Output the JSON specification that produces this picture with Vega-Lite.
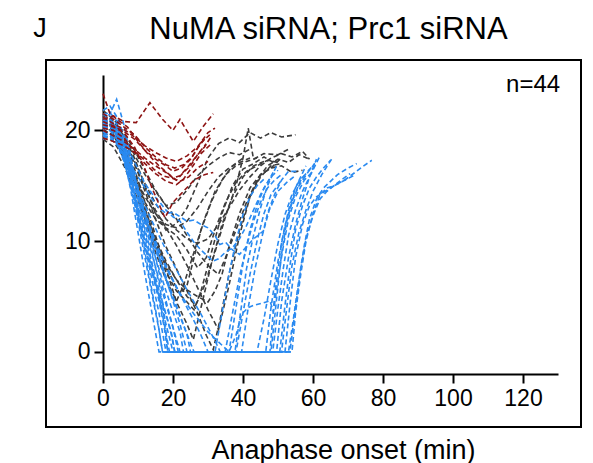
{
"$schema": "https://vega.github.io/schema/vega-lite/v6.json",
"width": 535, "height": 367,
"autosize": {"type": "none"},
"padding": {"left": 46, "top": 60, "right": 12, "bottom": 36},
"background": "white",
"title": {"text": "NuMA siRNA; Prc1 siRNA", "fontSize": 31, "font": "Liberation Sans", "fontWeight": "normal", "color": "black", "anchor": "middle", "frame": "group", "dx": 15, "offset": -31},
"datasets": {
"gray": [
{"s":1,"t":0,"v":21},{"s":1,"t":3,"v":20.5},{"s":1,"t":6,"v":19.5},{"s":1,"t":9,"v":17.5},{"s":1,"t":12,"v":15},{"s":1,"t":15,"v":12.5},{"s":1,"t":18,"v":11},{"s":1,"t":21,"v":11.6},{"s":1,"t":24,"v":13},{"s":1,"t":27,"v":15.2},{"s":1,"t":30,"v":17.5},{"s":1,"t":33,"v":18.8},{"s":1,"t":36,"v":19.3},{"s":1,"t":39,"v":18.9},{"s":1,"t":42,"v":19.8},{"s":1,"t":45,"v":19.3},{"s":1,"t":48,"v":19.8},{"s":1,"t":51,"v":19.4},{"s":1,"t":55,"v":19.6},
{"s":2,"t":0,"v":20.5},{"s":2,"t":3,"v":20},{"s":2,"t":6,"v":18.5},{"s":2,"t":9,"v":16},{"s":2,"t":12,"v":13},{"s":2,"t":15,"v":10},{"s":2,"t":18,"v":8},{"s":2,"t":21,"v":6.5},{"s":2,"t":24,"v":5},{"s":2,"t":26.5,"v":4.2},{"s":2,"t":29,"v":6},{"s":2,"t":32,"v":9},{"s":2,"t":35,"v":12.2},{"s":2,"t":38,"v":15},{"s":2,"t":40,"v":17.5},{"s":2,"t":41.5,"v":20.2},{"s":2,"t":43,"v":17.4},{"s":2,"t":46,"v":17.9},{"s":2,"t":50,"v":17.8},{"s":2,"t":53,"v":18.3},
{"s":3,"t":0,"v":19.5},{"s":3,"t":3,"v":19},{"s":3,"t":6,"v":17.5},{"s":3,"t":9,"v":15},{"s":3,"t":12,"v":12},{"s":3,"t":15,"v":9},{"s":3,"t":18,"v":6.5},{"s":3,"t":21,"v":4.6},{"s":3,"t":23,"v":6},{"s":3,"t":26,"v":9},{"s":3,"t":29,"v":12},{"s":3,"t":32,"v":14.5},{"s":3,"t":35,"v":16},{"s":3,"t":38,"v":16.8},{"s":3,"t":41,"v":17.2},{"s":3,"t":44,"v":17.5},
{"s":4,"t":0,"v":20.8},{"s":4,"t":3,"v":20.2},{"s":4,"t":6,"v":18.8},{"s":4,"t":9,"v":16.5},{"s":4,"t":12,"v":13.5},{"s":4,"t":15,"v":10.5},{"s":4,"t":18,"v":7.5},{"s":4,"t":21,"v":4.5},{"s":4,"t":24,"v":2.5},{"s":4,"t":25.8,"v":1.1},{"s":4,"t":28,"v":4},{"s":4,"t":31,"v":8},{"s":4,"t":34,"v":11.5},{"s":4,"t":37,"v":14},{"s":4,"t":40,"v":15.8},{"s":4,"t":43,"v":16.8},{"s":4,"t":46,"v":17.2},
{"s":5,"t":0,"v":21},{"s":5,"t":3,"v":20.2},{"s":5,"t":6,"v":19},{"s":5,"t":9,"v":17},{"s":5,"t":12,"v":14.5},{"s":5,"t":15,"v":12},{"s":5,"t":18,"v":9.5},{"s":5,"t":21,"v":7.5},{"s":5,"t":24,"v":5.5},{"s":5,"t":27,"v":3.5},{"s":5,"t":29.5,"v":1.5},{"s":5,"t":31.5,"v":0.2},{"s":5,"t":33.5,"v":3},{"s":5,"t":36,"v":7},{"s":5,"t":39,"v":11},{"s":5,"t":42,"v":14},{"s":5,"t":45,"v":15.8},{"s":5,"t":48,"v":16.8},{"s":5,"t":51,"v":17},
{"s":6,"t":0,"v":20.3},{"s":6,"t":3,"v":19.8},{"s":6,"t":6,"v":18.2},{"s":6,"t":9,"v":15.8},{"s":6,"t":12,"v":13.5},{"s":6,"t":15,"v":12},{"s":6,"t":18,"v":11.2},{"s":6,"t":21,"v":10.5},{"s":6,"t":24,"v":9.2},{"s":6,"t":27,"v":7.6},{"s":6,"t":29.5,"v":8.5},{"s":6,"t":32,"v":11},{"s":6,"t":35,"v":13.5},{"s":6,"t":38,"v":15.3},{"s":6,"t":41,"v":16.3},{"s":6,"t":44,"v":16.8},{"s":6,"t":47,"v":17.3},{"s":6,"t":50,"v":17.1},
{"s":7,"t":0,"v":21.5},{"s":7,"t":3,"v":20.8},{"s":7,"t":6,"v":19.5},{"s":7,"t":9,"v":17.8},{"s":7,"t":12,"v":16},{"s":7,"t":15,"v":14.5},{"s":7,"t":18,"v":13.2},{"s":7,"t":21,"v":12},{"s":7,"t":24,"v":10.5},{"s":7,"t":27,"v":9},{"s":7,"t":30,"v":7.8},{"s":7,"t":33,"v":7},{"s":7,"t":35,"v":8.5},{"s":7,"t":38,"v":11},{"s":7,"t":41,"v":13.5},{"s":7,"t":44,"v":15.5},{"s":7,"t":47,"v":16.8},{"s":7,"t":50,"v":17.4},{"s":7,"t":53,"v":17.1},{"s":7,"t":56,"v":17.8},{"s":7,"t":59,"v":17.4},
{"s":8,"t":0,"v":20},{"s":8,"t":3,"v":19.6},{"s":8,"t":6,"v":18.7},{"s":8,"t":9,"v":17},{"s":8,"t":12,"v":14.8},{"s":8,"t":15,"v":12.8},{"s":8,"t":18,"v":11.2},{"s":8,"t":21,"v":9.6},{"s":8,"t":24,"v":7.8},{"s":8,"t":27,"v":5.8},{"s":8,"t":30,"v":3.8},{"s":8,"t":33,"v":2},{"s":8,"t":36,"v":6},{"s":8,"t":39,"v":10.5},{"s":8,"t":42,"v":14},{"s":8,"t":45,"v":16},{"s":8,"t":48,"v":16.6},{"s":8,"t":51,"v":16.8},{"s":8,"t":54,"v":16.2},{"s":8,"t":57,"v":16.4},
{"s":9,"t":0,"v":19.8},{"s":9,"t":3,"v":19.3},{"s":9,"t":6,"v":18},{"s":9,"t":9,"v":16},{"s":9,"t":12,"v":14},{"s":9,"t":15,"v":12.5},{"s":9,"t":18,"v":11.5},{"s":9,"t":21,"v":11.2},{"s":9,"t":24,"v":11.8},{"s":9,"t":27,"v":13},{"s":9,"t":30,"v":14.5},{"s":9,"t":33,"v":15.8},{"s":9,"t":36,"v":16.6},{"s":9,"t":39,"v":17.1},{"s":9,"t":42,"v":17.5},
{"s":10,"t":0,"v":21.3},{"s":10,"t":3,"v":20.6},{"s":10,"t":6,"v":19.2},{"s":10,"t":9,"v":17.2},{"s":10,"t":12,"v":15.2},{"s":10,"t":15,"v":13.4},{"s":10,"t":18,"v":12},{"s":10,"t":21,"v":11},{"s":10,"t":24,"v":10.2},{"s":10,"t":27,"v":9.8},{"s":10,"t":30,"v":10.2},{"s":10,"t":33,"v":11.5},{"s":10,"t":36,"v":13},{"s":10,"t":39,"v":14.6},{"s":10,"t":42,"v":15.8},{"s":10,"t":45,"v":16.8},{"s":10,"t":48,"v":17.5},{"s":10,"t":51,"v":17.9},{"s":10,"t":54,"v":17.6},{"s":10,"t":57,"v":18.1},{"s":10,"t":59,"v":17.4},
{"s":11,"t":0,"v":20.6},{"s":11,"t":3,"v":19.7},{"s":11,"t":6,"v":17.8},{"s":11,"t":9,"v":15.2},{"s":11,"t":12,"v":12.3},{"s":11,"t":15,"v":9.8},{"s":11,"t":18,"v":7.8},{"s":11,"t":20,"v":6.4},{"s":11,"t":22,"v":5.2},{"s":11,"t":24,"v":6},{"s":11,"t":26,"v":8.5},{"s":11,"t":28,"v":11},{"s":11,"t":31,"v":13.6},{"s":11,"t":34,"v":15.5},{"s":11,"t":37,"v":16.8},{"s":11,"t":40,"v":17.5},
{"s":12,"t":0,"v":19.2},{"s":12,"t":3,"v":18.5},{"s":12,"t":6,"v":16.8},{"s":12,"t":9,"v":14.5},{"s":12,"t":12,"v":12},{"s":12,"t":15,"v":9.5},{"s":12,"t":18,"v":7.2},{"s":12,"t":21,"v":5.5},{"s":12,"t":24,"v":4.5},{"s":12,"t":26,"v":3.8},{"s":12,"t":28,"v":5.5},{"s":12,"t":31,"v":9},{"s":12,"t":34,"v":12.5},{"s":12,"t":37,"v":15},{"s":12,"t":40,"v":16.5},{"s":12,"t":43,"v":17},{"s":12,"t":46,"v":17.6},{"s":12,"t":48.7,"v":17.1},
{"s":13,"t":0,"v":20.1},{"s":13,"t":3,"v":19.5},{"s":13,"t":6,"v":18},{"s":13,"t":9,"v":15.5},{"s":13,"t":12,"v":12.8},{"s":13,"t":15,"v":10.2},{"s":13,"t":18,"v":8.2},{"s":13,"t":21,"v":6.5},{"s":13,"t":24,"v":5.6},{"s":13,"t":27,"v":5},{"s":13,"t":30,"v":4.5},{"s":13,"t":32,"v":5.5},{"s":13,"t":34,"v":7},{"s":13,"t":36,"v":9.5},{"s":13,"t":39,"v":12.5},{"s":13,"t":42,"v":14.8},{"s":13,"t":45,"v":16},{"s":13,"t":48,"v":16.6},{"s":13,"t":50.6,"v":17.4},
{"s":14,"t":0,"v":21.8},{"s":14,"t":3,"v":21},{"s":14,"t":6,"v":19.8},{"s":14,"t":9,"v":18.2},{"s":14,"t":12,"v":16.4},{"s":14,"t":15,"v":14.6},{"s":14,"t":18,"v":13.2},{"s":14,"t":21,"v":13.5},{"s":14,"t":24,"v":14.6},{"s":14,"t":27,"v":15.9},{"s":14,"t":30,"v":16.8},{"s":14,"t":33,"v":17.5},{"s":14,"t":36,"v":18},{"s":14,"t":39,"v":17.8},{"s":14,"t":42,"v":18.3}
],
"blue": [
{"s":1,"t":0,"v":20.2},{"s":1,"t":2,"v":20.6},{"s":1,"t":4,"v":19.8},{"s":1,"t":6,"v":17.6},{"s":1,"t":8,"v":14.5},{"s":1,"t":10,"v":10.8},{"s":1,"t":12,"v":7},{"s":1,"t":14,"v":3.5},{"s":1,"t":16,"v":0},{"s":1,"t":47.7,"v":0},{"s":1,"t":49,"v":5},{"s":1,"t":51,"v":9.8},{"s":1,"t":53,"v":12.8},{"s":1,"t":55,"v":14.8},{"s":1,"t":58,"v":16.8},
{"s":2,"t":0,"v":21},{"s":2,"t":2,"v":21.3},{"s":2,"t":4,"v":20.5},{"s":2,"t":6,"v":18.8},{"s":2,"t":8,"v":16},{"s":2,"t":10,"v":12.4},{"s":2,"t":12,"v":9},{"s":2,"t":14,"v":5.5},{"s":2,"t":15.5,"v":3},{"s":2,"t":17,"v":0},{"s":2,"t":49.6,"v":0},{"s":2,"t":51,"v":4.5},{"s":2,"t":53,"v":8.5},{"s":2,"t":55,"v":11.5},{"s":2,"t":57,"v":13.8},{"s":2,"t":59,"v":15.8},{"s":2,"t":62,"v":17.7},
{"s":3,"t":0,"v":19.5},{"s":3,"t":2,"v":20},{"s":3,"t":4,"v":19.6},{"s":3,"t":6,"v":18.2},{"s":3,"t":8,"v":15.8},{"s":3,"t":10,"v":12.8},{"s":3,"t":12,"v":9.6},{"s":3,"t":14,"v":6.5},{"s":3,"t":16,"v":3.5},{"s":3,"t":18,"v":0},{"s":3,"t":51,"v":0},{"s":3,"t":52.5,"v":4},{"s":3,"t":54,"v":7.8},{"s":3,"t":56,"v":10.8},{"s":3,"t":58,"v":12.8},{"s":3,"t":60,"v":14.5},{"s":3,"t":62.5,"v":16},{"s":3,"t":65.3,"v":17.4},
{"s":4,"t":0,"v":20.8},{"s":4,"t":2,"v":21.5},{"s":4,"t":3.9,"v":22.8},{"s":4,"t":6,"v":20.5},{"s":4,"t":8,"v":17.5},{"s":4,"t":10,"v":14},{"s":4,"t":12,"v":10.8},{"s":4,"t":14,"v":8},{"s":4,"t":16,"v":5},{"s":4,"t":17.5,"v":2.5},{"s":4,"t":19,"v":0},{"s":4,"t":53.4,"v":0},{"s":4,"t":55,"v":4},{"s":4,"t":56.5,"v":7.5},{"s":4,"t":58,"v":10.2},{"s":4,"t":60,"v":12.3},{"s":4,"t":62,"v":13.8},{"s":4,"t":64,"v":14.5},{"s":4,"t":66,"v":15},{"s":4,"t":69,"v":15.5},{"s":4,"t":72,"v":16.2},{"s":4,"t":74.5,"v":16.8},{"s":4,"t":76.8,"v":17.3},
{"s":5,"t":0,"v":20.4},{"s":5,"t":2,"v":20.2},{"s":5,"t":4,"v":19.2},{"s":5,"t":6,"v":17.5},{"s":5,"t":8,"v":15.2},{"s":5,"t":10,"v":12.5},{"s":5,"t":12,"v":10},{"s":5,"t":14,"v":7.5},{"s":5,"t":16,"v":5},{"s":5,"t":18,"v":2.5},{"s":5,"t":20,"v":0},{"s":5,"t":52,"v":0},{"s":5,"t":53.5,"v":4.5},{"s":5,"t":55,"v":8.5},{"s":5,"t":57,"v":11.5},{"s":5,"t":59,"v":13.2},{"s":5,"t":61,"v":14},{"s":5,"t":63.5,"v":14.5},{"s":5,"t":66,"v":15},{"s":5,"t":68,"v":15.5},{"s":5,"t":70.6,"v":16.1},
{"s":6,"t":0,"v":21.5},{"s":6,"t":2,"v":21},{"s":6,"t":4,"v":20},{"s":6,"t":6,"v":18.8},{"s":6,"t":8,"v":17},{"s":6,"t":10,"v":14.8},{"s":6,"t":12,"v":12.3},{"s":6,"t":14,"v":9.8},{"s":6,"t":16,"v":7.2},{"s":6,"t":18,"v":4.6},{"s":6,"t":20,"v":2.2},{"s":6,"t":21.5,"v":0},{"s":6,"t":54,"v":0},{"s":6,"t":55,"v":3.5},{"s":6,"t":56.5,"v":7},{"s":6,"t":58,"v":10},{"s":6,"t":60,"v":12.5},{"s":6,"t":62,"v":14.2},{"s":6,"t":64,"v":14.8},{"s":6,"t":66,"v":15},{"s":6,"t":68.5,"v":15.4},{"s":6,"t":71.5,"v":15.9},
{"s":7,"t":0,"v":19.8},{"s":7,"t":2,"v":19.5},{"s":7,"t":4,"v":18.8},{"s":7,"t":6,"v":17.5},{"s":7,"t":8,"v":15.5},{"s":7,"t":10,"v":13.2},{"s":7,"t":12,"v":11},{"s":7,"t":14,"v":8.8},{"s":7,"t":16,"v":6.5},{"s":7,"t":18,"v":4.3},{"s":7,"t":20,"v":2.2},{"s":7,"t":22,"v":0},{"s":7,"t":34.9,"v":0},{"s":7,"t":37,"v":3.5},{"s":7,"t":39,"v":6.8},{"s":7,"t":41,"v":9.5},{"s":7,"t":43,"v":11.8},{"s":7,"t":45,"v":13.5},{"s":7,"t":47,"v":14.8},{"s":7,"t":49,"v":15.5},{"s":7,"t":51,"v":16},
{"s":8,"t":0,"v":20.6},{"s":8,"t":2,"v":20.8},{"s":8,"t":4,"v":20.2},{"s":8,"t":6,"v":18.5},{"s":8,"t":8,"v":16.2},{"s":8,"t":10,"v":13.8},{"s":8,"t":12,"v":11.5},{"s":8,"t":14,"v":9.5},{"s":8,"t":16,"v":7.5},{"s":8,"t":18,"v":5.5},{"s":8,"t":20,"v":3.6},{"s":8,"t":22,"v":1.8},{"s":8,"t":23,"v":0},{"s":8,"t":37.7,"v":0},{"s":8,"t":39.5,"v":4},{"s":8,"t":41,"v":7.5},{"s":8,"t":43,"v":10.5},{"s":8,"t":45,"v":13},{"s":8,"t":47,"v":15},{"s":8,"t":49.6,"v":16.8},
{"s":9,"t":0,"v":21.2},{"s":9,"t":2,"v":20.8},{"s":9,"t":4,"v":19.8},{"s":9,"t":6,"v":18.4},{"s":9,"t":8,"v":16.6},{"s":9,"t":10,"v":14.6},{"s":9,"t":12,"v":12.6},{"s":9,"t":14,"v":10.6},{"s":9,"t":16,"v":8.6},{"s":9,"t":18,"v":6.6},{"s":9,"t":20,"v":4.6},{"s":9,"t":22,"v":2.5},{"s":9,"t":24,"v":0},{"s":9,"t":39.6,"v":0},{"s":9,"t":41.5,"v":4},{"s":9,"t":43.5,"v":7.6},{"s":9,"t":45.5,"v":10.5},{"s":9,"t":47.5,"v":12.8},{"s":9,"t":50,"v":14.5},{"s":9,"t":52.5,"v":15.3},{"s":9,"t":54.9,"v":15.9},
{"s":10,"t":0,"v":19.2},{"s":10,"t":2,"v":19.6},{"s":10,"t":4,"v":19.3},{"s":10,"t":6,"v":18},{"s":10,"t":8,"v":16.3},{"s":10,"t":10,"v":14.3},{"s":10,"t":12,"v":12.3},{"s":10,"t":14,"v":10.4},{"s":10,"t":16,"v":8.6},{"s":10,"t":18,"v":6.8},{"s":10,"t":20,"v":5},{"s":10,"t":22,"v":3.3},{"s":10,"t":24,"v":1.6},{"s":10,"t":25,"v":0},{"s":10,"t":48.5,"v":0},{"s":10,"t":50,"v":4},{"s":10,"t":51.5,"v":7.5},{"s":10,"t":53,"v":10.5},{"s":10,"t":55,"v":12.8},{"s":10,"t":57,"v":14.5},{"s":10,"t":59,"v":15.8},{"s":10,"t":61,"v":17.4},
{"s":11,"t":0,"v":20.9},{"s":11,"t":2,"v":20.5},{"s":11,"t":4,"v":19.5},{"s":11,"t":6,"v":18},{"s":11,"t":8,"v":16.2},{"s":11,"t":10,"v":14.2},{"s":11,"t":12,"v":12.2},{"s":11,"t":14,"v":10.2},{"s":11,"t":16,"v":8.3},{"s":11,"t":18,"v":6.5},{"s":11,"t":20,"v":4.8},{"s":11,"t":22,"v":3.2},{"s":11,"t":24,"v":1.6},{"s":11,"t":26,"v":0},{"s":11,"t":50.5,"v":0},{"s":11,"t":52,"v":4.2},{"s":11,"t":53.5,"v":8},{"s":11,"t":55,"v":11},{"s":11,"t":57,"v":13.2},{"s":11,"t":59,"v":14.8},{"s":11,"t":61,"v":15.8},{"s":11,"t":63,"v":16.6},{"s":11,"t":65,"v":17.3},
{"s":12,"t":0,"v":20.1},{"s":12,"t":2,"v":20.4},{"s":12,"t":4,"v":19.6},{"s":12,"t":6,"v":18.2},{"s":12,"t":8,"v":16.5},{"s":12,"t":10,"v":14.8},{"s":12,"t":12,"v":13.2},{"s":12,"t":14,"v":11.8},{"s":12,"t":16,"v":10.5},{"s":12,"t":18,"v":9.2},{"s":12,"t":20,"v":8},{"s":12,"t":22,"v":6.8},{"s":12,"t":24,"v":5.6},{"s":12,"t":26,"v":4.5},{"s":12,"t":28,"v":3.4},{"s":12,"t":30,"v":2.2},{"s":12,"t":32,"v":1},{"s":12,"t":33.5,"v":0},{"s":12,"t":38,"v":0},{"s":12,"t":40,"v":3.5},{"s":12,"t":42,"v":7},{"s":12,"t":44,"v":10},{"s":12,"t":46,"v":12.5},{"s":12,"t":48,"v":14.2},{"s":12,"t":51,"v":15.5},
{"s":13,"t":0,"v":21.8},{"s":13,"t":2,"v":22.2},{"s":13,"t":4,"v":21.2},{"s":13,"t":6,"v":19.5},{"s":13,"t":8,"v":17.2},{"s":13,"t":10,"v":14.5},{"s":13,"t":12,"v":11.8},{"s":13,"t":14,"v":9},{"s":13,"t":16,"v":6.2},{"s":13,"t":17.5,"v":3.5},{"s":13,"t":18.5,"v":0},{"s":13,"t":48,"v":0},{"s":13,"t":49.5,"v":4.5},{"s":13,"t":51,"v":8.8},{"s":13,"t":52.5,"v":11.8},{"s":13,"t":54.5,"v":14},{"s":13,"t":56.5,"v":15.5},{"s":13,"t":58.5,"v":16.3},{"s":13,"t":60.5,"v":17},
{"s":14,"t":0,"v":20.3},{"s":14,"t":2,"v":20},{"s":14,"t":4,"v":19.2},{"s":14,"t":6,"v":17.8},{"s":14,"t":8,"v":16},{"s":14,"t":10,"v":14},{"s":14,"t":12,"v":12.2},{"s":14,"t":14,"v":10.5},{"s":14,"t":16,"v":9},{"s":14,"t":18,"v":7.6},{"s":14,"t":20,"v":6.4},{"s":14,"t":22,"v":5.3},{"s":14,"t":24,"v":4.3},{"s":14,"t":26,"v":3.4},{"s":14,"t":28,"v":2.6},{"s":14,"t":30,"v":1.8},{"s":14,"t":32,"v":1.2},{"s":14,"t":34,"v":0.6},{"s":14,"t":36,"v":0},{"s":14,"t":38,"v":1.5},{"s":14,"t":39.6,"v":3.4},{"s":14,"t":41.5,"v":4},{"s":14,"t":43,"v":4.2},{"s":14,"t":45.5,"v":4.4},{"s":14,"t":47.7,"v":4.6},{"s":14,"t":48.7,"v":3.6},{"s":14,"t":50,"v":6.5},{"s":14,"t":51.5,"v":9.5},{"s":14,"t":53,"v":12},{"s":14,"t":55,"v":14},{"s":14,"t":57.5,"v":15.5},{"s":14,"t":60,"v":16.3},
{"s":15,"t":0,"v":21},{"s":15,"t":2,"v":20.8},{"s":15,"t":4,"v":20.2},{"s":15,"t":6,"v":19.2},{"s":15,"t":8,"v":17.8},{"s":15,"t":10,"v":16.5},{"s":15,"t":12,"v":15.2},{"s":15,"t":14,"v":14.3},{"s":15,"t":16,"v":13.6},{"s":15,"t":18,"v":12.8},{"s":15,"t":20,"v":12.2},{"s":15,"t":22,"v":11.8},{"s":15,"t":24,"v":10.8},{"s":15,"t":26,"v":9.9},{"s":15,"t":28,"v":9.2},{"s":15,"t":30,"v":8.6},{"s":15,"t":31.5,"v":8.2},{"s":15,"t":33,"v":8.4},{"s":15,"t":35,"v":9},{"s":15,"t":37,"v":9.4},{"s":15,"t":39,"v":10.2},{"s":15,"t":41,"v":11.4},{"s":15,"t":43,"v":12.8},{"s":15,"t":45,"v":14.2},{"s":15,"t":47,"v":15.3},{"s":15,"t":48.6,"v":16.2},
{"s":16,"t":0,"v":19.6},{"s":16,"t":2,"v":19.3},{"s":16,"t":4,"v":18.7},{"s":16,"t":6,"v":17.8},{"s":16,"t":8,"v":16.8},{"s":16,"t":10,"v":15.8},{"s":16,"t":12,"v":14.8},{"s":16,"t":14,"v":13.8},{"s":16,"t":16,"v":13},{"s":16,"t":18,"v":12.5},{"s":16,"t":20,"v":12.6},{"s":16,"t":22,"v":12.2},{"s":16,"t":24,"v":11.8},{"s":16,"t":26,"v":11.9},{"s":16,"t":28,"v":11.5},{"s":16,"t":30,"v":11.2},{"s":16,"t":32,"v":10.5},{"s":16,"t":33.4,"v":9.7},{"s":16,"t":35,"v":9.9},{"s":16,"t":37,"v":9.2},{"s":16,"t":39,"v":8.8},{"s":16,"t":41,"v":9.5},{"s":16,"t":43,"v":10.2},{"s":16,"t":45.8,"v":10.9},{"s":16,"t":47,"v":12.5},{"s":16,"t":49,"v":14.2},{"s":16,"t":51,"v":15.5},{"s":16,"t":53,"v":16.3},{"s":16,"t":55.3,"v":16.3},
{"s":17,"t":0,"v":20.7},{"s":17,"t":2,"v":21},{"s":17,"t":4,"v":20.3},{"s":17,"t":6,"v":18.2},{"s":17,"t":8,"v":15.2},{"s":17,"t":10,"v":11.8},{"s":17,"t":12,"v":8.5},{"s":17,"t":14,"v":5.2},{"s":17,"t":16,"v":2},{"s":17,"t":17,"v":0},{"s":17,"t":46.5,"v":0},{"s":17,"t":48,"v":4},{"s":17,"t":50,"v":8.2},{"s":17,"t":52,"v":11.4},{"s":17,"t":54,"v":13.6},{"s":17,"t":56,"v":15},{"s":17,"t":58.5,"v":16.2},{"s":17,"t":60.5,"v":17},
{"s":18,"t":0,"v":19.9},{"s":18,"t":2,"v":19.7},{"s":18,"t":4,"v":18.9},{"s":18,"t":6,"v":17.2},{"s":18,"t":8,"v":14.8},{"s":18,"t":10,"v":12},{"s":18,"t":12,"v":9.5},{"s":18,"t":14,"v":7.2},{"s":18,"t":16,"v":5.2},{"s":18,"t":18,"v":3.4},{"s":18,"t":19.5,"v":1.8},{"s":18,"t":20.5,"v":0},{"s":18,"t":36,"v":0},{"s":18,"t":38,"v":4},{"s":18,"t":40,"v":8},{"s":18,"t":42,"v":11},{"s":18,"t":44,"v":13.2},{"s":18,"t":46,"v":14.8},{"s":18,"t":48,"v":15.8},{"s":18,"t":50,"v":16.4},
{"s":19,"t":0,"v":21.4},{"s":19,"t":2,"v":21.6},{"s":19,"t":4,"v":20.8},{"s":19,"t":6,"v":19},{"s":19,"t":8,"v":16.8},{"s":19,"t":10,"v":14.6},{"s":19,"t":12,"v":12.6},{"s":19,"t":14,"v":10.8},{"s":19,"t":16,"v":9.2},{"s":19,"t":18,"v":7.8},{"s":19,"t":20,"v":6.5},{"s":19,"t":22,"v":5.2},{"s":19,"t":24,"v":4},{"s":19,"t":26,"v":2.8},{"s":19,"t":28,"v":1.5},{"s":19,"t":30,"v":0},{"s":19,"t":44,"v":0},{"s":19,"t":46,"v":3},{"s":19,"t":48,"v":6.5},{"s":19,"t":50,"v":9.8},{"s":19,"t":52,"v":12.4},{"s":19,"t":54,"v":14.2},{"s":19,"t":56,"v":15.4},{"s":19,"t":58,"v":16.1},
{"s":20,"t":0,"v":20.5},{"s":20,"t":2,"v":20.6},{"s":20,"t":4,"v":19.6},{"s":20,"t":6,"v":17.9},{"s":20,"t":8,"v":15.6},{"s":20,"t":10,"v":13},{"s":20,"t":12,"v":10.4},{"s":20,"t":14,"v":7.9},{"s":20,"t":16,"v":5.6},{"s":20,"t":18,"v":3.4},{"s":20,"t":19.5,"v":1.6},{"s":20,"t":20.5,"v":0},{"s":20,"t":53,"v":0},{"s":20,"t":54.5,"v":3.2},{"s":20,"t":56,"v":6.6},{"s":20,"t":57.5,"v":9.6},{"s":20,"t":59,"v":12},{"s":20,"t":61,"v":13.8},{"s":20,"t":63,"v":14.8},{"s":20,"t":65,"v":15.4},{"s":20,"t":67,"v":16},{"s":20,"t":70,"v":16.6},{"s":20,"t":72.5,"v":17},
{"s":21,"t":0,"v":19.4},{"s":21,"t":2,"v":19.5},{"s":21,"t":4,"v":18.8},{"s":21,"t":6,"v":17.2},{"s":21,"t":8,"v":14.9},{"s":21,"t":10,"v":12.4},{"s":21,"t":12,"v":9.8},{"s":21,"t":14,"v":7.2},{"s":21,"t":16,"v":4.6},{"s":21,"t":17.5,"v":2.2},{"s":21,"t":18.5,"v":0},{"s":21,"t":32,"v":0},{"s":21,"t":34,"v":3.5},{"s":21,"t":36,"v":7},{"s":21,"t":38,"v":10},{"s":21,"t":40,"v":12.4},{"s":21,"t":42,"v":14},{"s":21,"t":44,"v":15},{"s":21,"t":46,"v":15.6}
],
"red": [
{"s":1,"t":0,"v":21},{"s":1,"t":3,"v":21.3},{"s":1,"t":6,"v":20.8},{"s":1,"t":9.5,"v":20.7},{"s":1,"t":13.4,"v":22.5},{"s":1,"t":17,"v":21},{"s":1,"t":20,"v":20},{"s":1,"t":22,"v":21},{"s":1,"t":25.8,"v":19},{"s":1,"t":28.5,"v":20.3},{"s":1,"t":31.5,"v":21.5},
{"s":2,"t":0,"v":20.5},{"s":2,"t":3,"v":20.3},{"s":2,"t":6,"v":19.8},{"s":2,"t":9,"v":18.5},{"s":2,"t":12,"v":16.5},{"s":2,"t":14,"v":14.8},{"s":2,"t":17.7,"v":12.1},{"s":2,"t":20,"v":13.5},{"s":2,"t":23,"v":14.5},{"s":2,"t":26,"v":15.5},{"s":2,"t":29,"v":16},{"s":2,"t":31.5,"v":16.2},
{"s":3,"t":0,"v":23.3},{"s":3,"t":2,"v":21.5},{"s":3,"t":4,"v":21},{"s":3,"t":7,"v":20.3},{"s":3,"t":10,"v":19},{"s":3,"t":13,"v":17.8},{"s":3,"t":16,"v":16.8},{"s":3,"t":19,"v":16},{"s":3,"t":21,"v":15.5},{"s":3,"t":23,"v":16.2},{"s":3,"t":25,"v":16.8},{"s":3,"t":27,"v":17.8},{"s":3,"t":29.5,"v":18.8},
{"s":4,"t":0,"v":20},{"s":4,"t":3,"v":19.5},{"s":4,"t":6,"v":19},{"s":4,"t":9,"v":18.3},{"s":4,"t":12,"v":17.5},{"s":4,"t":15,"v":16.8},{"s":4,"t":18,"v":16.2},{"s":4,"t":20,"v":15.7},{"s":4,"t":22,"v":15.9},{"s":4,"t":24,"v":16.6},{"s":4,"t":26.5,"v":17.6},{"s":4,"t":29,"v":18.5},{"s":4,"t":31,"v":19.5},
{"s":5,"t":0,"v":21.5},{"s":5,"t":3,"v":21},{"s":5,"t":6,"v":20.3},{"s":5,"t":9,"v":19.6},{"s":5,"t":12,"v":18.5},{"s":5,"t":15,"v":17.6},{"s":5,"t":18,"v":16.9},{"s":5,"t":20.5,"v":16.6},{"s":5,"t":23,"v":16.9},{"s":5,"t":25.5,"v":17.6},{"s":5,"t":28,"v":18.9},{"s":5,"t":30.5,"v":19.6},
{"s":6,"t":0,"v":19.3},{"s":6,"t":3,"v":19},{"s":6,"t":6,"v":18.6},{"s":6,"t":9,"v":18},{"s":6,"t":12,"v":17},{"s":6,"t":15,"v":16.1},{"s":6,"t":18,"v":15.4},{"s":6,"t":21,"v":15.1},{"s":6,"t":23,"v":15.6},{"s":6,"t":25.5,"v":16.7},{"s":6,"t":28,"v":17.9},{"s":6,"t":31,"v":18.8},
{"s":7,"t":0,"v":20.8},{"s":7,"t":3,"v":20.4},{"s":7,"t":6,"v":19.9},{"s":7,"t":9,"v":19.2},{"s":7,"t":12,"v":18.2},{"s":7,"t":15,"v":17.4},{"s":7,"t":17.5,"v":16.9},{"s":7,"t":20,"v":16.3},{"s":7,"t":22.5,"v":16.6},{"s":7,"t":25,"v":17.4},{"s":7,"t":27,"v":18.4},{"s":7,"t":29.5,"v":19.4},
{"s":8,"t":0,"v":21.2},{"s":8,"t":3,"v":20.6},{"s":8,"t":6,"v":20.1},{"s":8,"t":9,"v":19.4},{"s":8,"t":12,"v":18.6},{"s":8,"t":15,"v":18},{"s":8,"t":18,"v":17.5},{"s":8,"t":21,"v":17.2},{"s":8,"t":24,"v":17.7},{"s":8,"t":27,"v":18.5},{"s":8,"t":30,"v":19.8},{"s":8,"t":32,"v":20.2},
{"s":9,"t":0,"v":20.2},{"s":9,"t":3,"v":20},{"s":9,"t":6,"v":19.3},{"s":9,"t":9,"v":18.1},{"s":9,"t":12,"v":17.3},{"s":9,"t":14.5,"v":16.5},{"s":9,"t":17,"v":15.9},{"s":9,"t":19.5,"v":15.7},{"s":9,"t":22,"v":15.4},{"s":9,"t":24.5,"v":15.8},{"s":9,"t":27,"v":16.6},{"s":9,"t":30,"v":17.2}
],
"labels": [{"label": "n=44"}],
"panel": [{"label": "J"}]
},
"layer": [
{"data": {"name": "gray"}, "mark": {"type": "line", "color": "#3c3c3c", "strokeDash": [5, 3], "strokeWidth": 1.6},
 "encoding": {
  "x": {"field": "t", "type": "quantitative",
   "scale": {"domain": [0, 130], "range": [57, 512], "nice": false, "zero": false},
   "axis": {"title": "Anaphase onset (min)", "values": [0,20,40,60,80,100,120], "format": "d", "offset": -53, "grid": false,
    "domainColor": "black", "domainWidth": 2, "tickColor": "black", "tickWidth": 2, "tickSize": 9,
    "labelFontSize": 23, "labelColor": "black", "labelFont": "Liberation Sans", "labelPadding": 4, "labelFlush": false, "labelOverlap": false,
    "titleFontSize": 27, "titleFontWeight": "normal", "titleColor": "black", "titleFont": "Liberation Sans",
    "titleX": 297, "titleY": 84, "titleBaseline": "alphabetic", "titleAlign": "center"}},
  "y": {"field": "v", "type": "quantitative",
   "scale": {"domain": [-2, 25], "range": [314, 15], "nice": false, "zero": false},
   "axis": {"title": null, "values": [0,10,20], "format": "d", "offset": -57, "grid": false,
    "domainColor": "black", "domainWidth": 2, "tickColor": "black", "tickWidth": 2, "tickSize": 9,
    "labelFontSize": 23, "labelColor": "black", "labelFont": "Liberation Sans", "labelPadding": 4}},
  "detail": {"field": "s"}}},
{"data": {"name": "blue"}, "mark": {"type": "line", "color": "#2a8af0", "strokeDash": [5, 3], "strokeWidth": 1.6},
 "encoding": {"x": {"field": "t", "type": "quantitative"}, "y": {"field": "v", "type": "quantitative"}, "detail": {"field": "s"}}},
{"data": {"name": "red"}, "mark": {"type": "line", "color": "#8e1414", "strokeDash": [5, 3], "strokeWidth": 1.6},
 "encoding": {"x": {"field": "t", "type": "quantitative"}, "y": {"field": "v", "type": "quantitative"}, "detail": {"field": "s"}}},
{"data": {"name": "labels"}, "mark": {"type": "text", "fontSize": 24, "font": "Liberation Sans", "align": "right", "baseline": "alphabetic", "color": "black"},
 "encoding": {"x": {"datum": 130.6, "type": "quantitative"}, "y": {"datum": 23.5, "type": "quantitative"}, "text": {"field": "label"}}},
{"data": {"name": "panel"}, "mark": {"type": "text", "fontSize": 27, "font": "Liberation Sans", "align": "center", "baseline": "alphabetic", "color": "black"},
 "encoding": {"x": {"datum": -18, "type": "quantitative"}, "y": {"datum": 28.4, "type": "quantitative"}, "text": {"field": "label"}}}
],
"config": {"view": {"stroke": "black", "strokeWidth": 2}, "font": "Liberation Sans"}
}
